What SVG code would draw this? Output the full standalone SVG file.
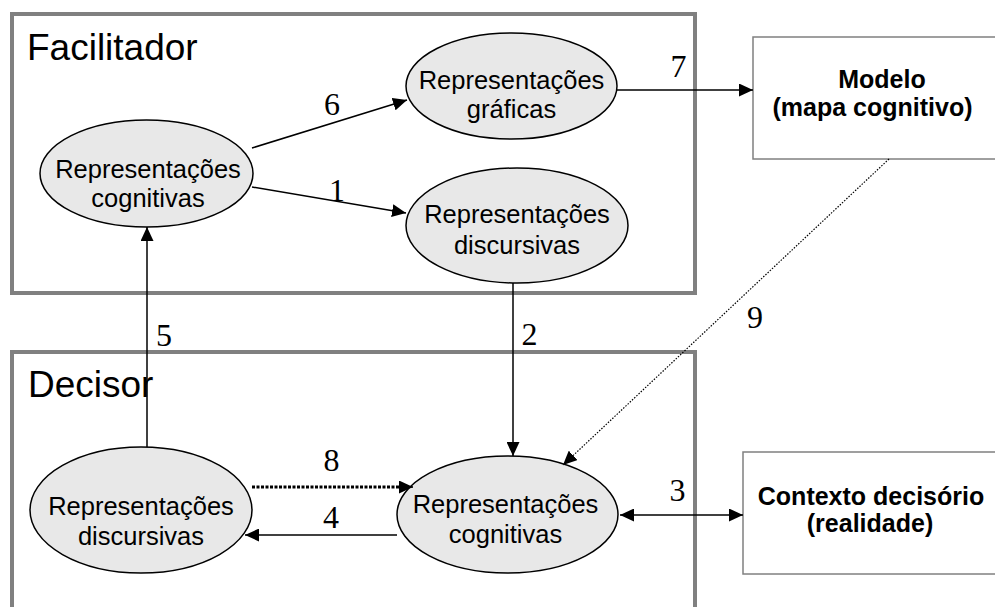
<svg xmlns="http://www.w3.org/2000/svg" width="995" height="607" viewBox="0 0 995 607">
<style>
.container{fill:none;stroke:#808080;stroke-width:4}
.title{font-family:"Liberation Sans",Arial,sans-serif;font-size:37px;fill:#000}
.node ellipse{fill:#e8e8e8;stroke:#000;stroke-width:1.5}
.node text{font-family:"Liberation Sans",Arial,sans-serif;font-size:25.5px;fill:#000;text-anchor:middle}
.box rect{fill:#fff;stroke:#808080;stroke-width:1.5}
.box text{font-family:"Liberation Sans",Arial,sans-serif;font-size:25px;font-weight:bold;fill:#000;text-anchor:middle}
.conn{stroke:#000;stroke-width:1.5;fill:none}
.dot9{stroke:#000;stroke-width:1.2;stroke-dasharray:1.5 1.5;fill:none}
.dot8{stroke:#000;stroke-width:3;stroke-dasharray:3 1.5;fill:none}
.num{font-family:"Liberation Serif","Times New Roman",serif;font-size:32px;fill:#000;text-anchor:middle}
</style>
<defs>
<marker id="ah" markerUnits="userSpaceOnUse" markerWidth="14" markerHeight="13" viewBox="0 0 14 13" refX="14" refY="6.5" orient="auto">
<path d="M0,0 L14,6.5 L0,13 Z" fill="#000"/>
</marker>
<marker id="ahs" markerUnits="userSpaceOnUse" markerWidth="14" markerHeight="13" viewBox="0 0 14 13" refX="0" refY="6.5" orient="auto">
<path d="M14,0 L0,6.5 L14,13 Z" fill="#000"/>
</marker>
</defs>
<rect width="995" height="607" fill="#fff"/>
<g id="facilitador">
<rect class="container" x="12" y="14" width="683" height="279"/>
<text class="title" x="27" y="60">Facilitador</text>
</g>
<g id="decisor">
<rect class="container" x="12" y="352" width="683" height="300"/>
<text class="title" x="28" y="397">Decisor</text>
</g>
<g id="fac-cognitivas" class="node">
<ellipse cx="146.5" cy="173.5" rx="106.5" ry="53.5"/>
<text x="148" y="178">Representações</text>
<text x="148" y="207">cognitivas</text>
</g>
<g id="fac-graficas" class="node">
<ellipse cx="511.5" cy="86" rx="105.5" ry="53"/>
<text x="511.5" y="89">Representações</text>
<text x="511.5" y="118">gráficas</text>
</g>
<g id="fac-discursivas" class="node">
<ellipse cx="517" cy="225.5" rx="111" ry="57.5"/>
<text x="517" y="223">Representações</text>
<text x="517" y="254">discursivas</text>
</g>
<g id="dec-discursivas" class="node">
<ellipse cx="141" cy="510" rx="111" ry="63"/>
<text x="141" y="515">Representações</text>
<text x="141" y="545">discursivas</text>
</g>
<g id="dec-cognitivas" class="node">
<ellipse cx="507.5" cy="514.5" rx="110.5" ry="58.5"/>
<text x="505.5" y="513">Representações</text>
<text x="505.5" y="543">cognitivas</text>
</g>
<g id="modelo" class="box">
<rect x="753" y="37" width="260" height="122"/>
<text x="882" y="88">Modelo</text>
<text x="872.5" y="116">(mapa cognitivo)</text>
</g>
<g id="contexto" class="box">
<rect x="743" y="452" width="270" height="122"/>
<text x="871" y="505">Contexto decisório</text>
<text x="870" y="532">(realidade)</text>
</g>
<g id="connectors">
<line class="conn" x1="252" y1="148" x2="407" y2="100" marker-end="url(#ah)"/>
<line class="conn" x1="252" y1="187" x2="406" y2="213" marker-end="url(#ah)"/>
<line class="conn" x1="617" y1="90" x2="753" y2="90" marker-end="url(#ah)"/>
<line class="conn" x1="513" y1="283" x2="513" y2="456" marker-end="url(#ah)"/>
<line class="conn" x1="147" y1="447" x2="147" y2="227" marker-end="url(#ah)"/>
<line class="dot8" x1="252" y1="487" x2="400" y2="487"/>
<line class="conn" x1="399" y1="487" x2="413" y2="487" marker-end="url(#ah)" stroke-width="0.5"/>
<line class="conn" x1="397" y1="535" x2="245" y2="535" marker-end="url(#ah)"/>
<line class="conn" x1="620" y1="515" x2="743" y2="515" marker-start="url(#ahs)" marker-end="url(#ah)"/>
<line class="dot9" x1="889" y1="159" x2="563" y2="465" marker-end="url(#ah)"/>
<text class="num" x="332" y="115">6</text>
<text class="num" x="337" y="201">1</text>
<text class="num" x="678.5" y="77">7</text>
<text class="num" x="529.5" y="345">2</text>
<text class="num" x="164" y="346">5</text>
<text class="num" x="331.5" y="471">8</text>
<text class="num" x="331" y="528">4</text>
<text class="num" x="677.5" y="501">3</text>
<text class="num" x="755" y="328">9</text>
</g>
</svg>
